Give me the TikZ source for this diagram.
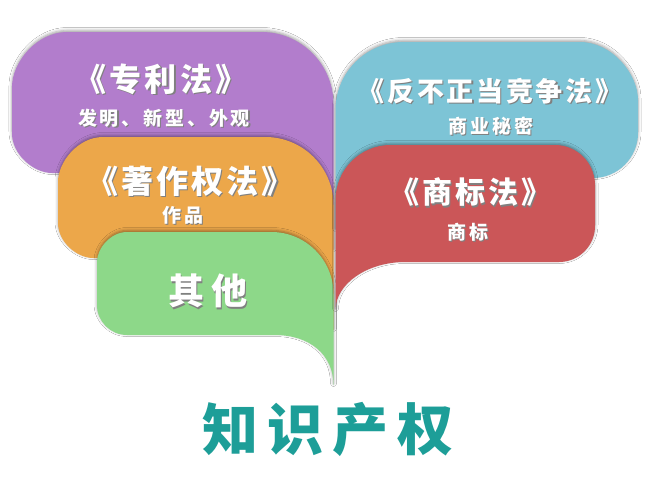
\documentclass[tikz,border=0pt]{standalone}
\usepackage{fontspec}
\usetikzlibrary{shadows.blur}
\newfontfamily\cjk{Noto Sans CJK SC}
\definecolor{cpurple}{HTML}{B27DCC}
\definecolor{corange}{HTML}{ECA74A}
\definecolor{cgreen}{HTML}{8DD889}
\definecolor{cblue}{HTML}{7DC4D6}
\definecolor{cred}{HTML}{CB5658}
\definecolor{cteal}{HTML}{1D9E98}
\tikzset{
  bubble/.style={draw=none, blur shadow={shadow xshift=0pt, shadow yshift=1.5pt, shadow blur radius=3pt, shadow opacity=38}},
  txtmain/.style={inner sep=0pt, text=white},
  txtshadow/.style={inner sep=0pt, text=black!50},
}
\newcommand{\mylbl}[6]{%
  \node[txtshadow, font={\cjk\bfseries\fontsize{#4}{#4}\selectfont\addfontfeature{LetterSpace=#5}}] (#1-sh) at (#2+1.2,#3+1.6) {#6};
  \node[txtmain, font={\cjk\bfseries\fontsize{#4}{#4}\selectfont\addfontfeature{LetterSpace=#5}}] (#1) at (#2,#3) {#6};
}
\begin{document}
\begin{tikzpicture}[x=1pt,y=-1pt]
\useasboundingbox[fill=white] (0,0) rectangle (660,493);
% purple
\fill[cpurple, bubble] (333.5,250) -- (333.5,104) .. controls (333.5,64.4) and (301.1,32) .. (261.5,32)
  -- (67,32) .. controls (36.75,32) and (12,62.25) .. (12,87)
  -- (12,133) .. controls (12,155) and (34,173) .. (52,173)
  -- (200,173) -- cycle;
% orange
\fill[corange, bubble] (333.5,330) -- (333.5,205) .. controls (333.5,167.6) and (302.9,137) .. (265.5,137)
  -- (103,137) .. controls (78.25,137) and (58,161.75) .. (58,182)
  -- (58,223) .. controls (58,242.25) and (77.25,258) .. (93,258)
  -- (120,258) -- cycle;
% green
\fill[cgreen, bubble] (333.5,385) -- (333.5,294) .. controls (333.5,259.9) and (305.6,232) .. (271.5,232)
  -- (127,232) .. controls (110.5,232) and (97,248.5) .. (97,262)
  -- (97,305) .. controls (97,321.5) and (110.5,335) .. (127,335)
  -- (275,335) .. controls (310,335) and (333.5,355) .. (333.5,385) -- cycle;
% blue
\fill[cblue, bubble] (335.5,230) -- (335.5,110) .. controls (335.5,72.6) and (366.1,42) .. (403.5,42)
  -- (580,42) .. controls (611.9,42) and (638,73.9) .. (638,100)
  -- (638,133) .. controls (638,157.75) and (617.75,178) .. (593,178)
  -- (450,178) -- cycle;
% red
\fill[cred, bubble] (335.5,310) -- (335.5,200) .. controls (335.5,169.75) and (360.25,145) .. (390.5,145)
  -- (555,145) .. controls (577,145) and (595,163) .. (595,185)
  -- (595,226) .. controls (595,245.8) and (578.8,262) .. (559,262)
  -- (405,262) .. controls (367,262) and (335.5,284) .. (335.5,310) -- cycle;
% labels
\mylbl{patent}{161}{79}{32}{10}{《专利法》}
\mylbl{patentsub}{164}{118}{19}{15}{发明、新型、外观}
\mylbl{copyright}{190}{181}{32}{10}{《著作权法》}
\mylbl{copysub}{183}{215}{19}{15}{作品}
\mylbl{other}{208}{291}{36}{18}{其他}
\mylbl{unfair}{490}{91}{27}{10}{《反不正当竞争法》}
\mylbl{unfairsub}{491}{126}{19}{15}{商业秘密}
\mylbl{trademark}{470}{192}{30}{10}{《商标法》}
\mylbl{tmsub}{468}{232}{19}{15}{商标}
\node[inner sep=0pt, text=cteal, font={\cjk\bfseries\fontsize{56}{56}\selectfont\addfontfeature{LetterSpace=16}}] (ip) at (328,429) {知识产权};
\end{tikzpicture}
\end{document}
